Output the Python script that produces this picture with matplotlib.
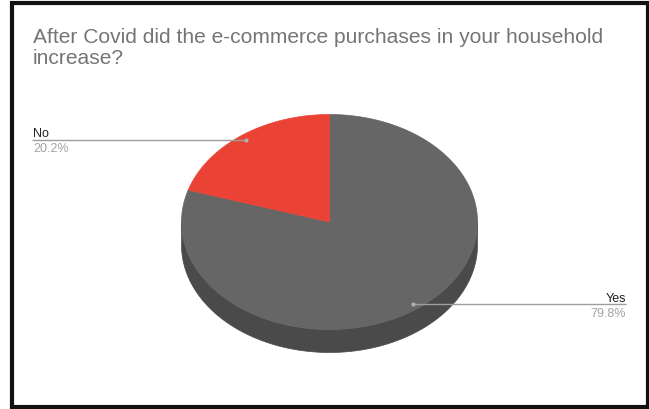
import numpy as np
import matplotlib
matplotlib.use("Agg")
import matplotlib.pyplot as plt
from matplotlib.patches import Polygon, Rectangle

plt.rcParams['font.family'] = ['Liberation Sans', 'DejaVu Sans']

title = "After Covid did the e-commerce purchases in your household\nincrease?"
answers = ["Yes", "No"]
shares = [79.8, 20.2]
top_colors = ["#666666", "#ea4335"]
side_colors = ["#4a4a4a", "#b2322a"]

W, H = 649, 410
fig = plt.figure(figsize=(W / 100, H / 100), dpi=100)
ax = fig.add_axes([0, 0, 1, 1])
ax.set_xlim(0, W)
ax.set_ylim(H, 0)
ax.axis('off')

# frame round the whole chart
ax.add_patch(Rectangle((12.3, 4), 635.2, 404, fill=False, edgecolor='#111111', linewidth=3))

# baseline given for the last line of the title
ax.text(33, 63.5, title, fontsize=15.1, color='#757575', ha='left', va='baseline',
        linespacing=1.1)

# tilted pie: ellipse centre, radii and thickness
cx, cy = 329.5, 223
rx, ry = 148, 107.5
depth = 23


def rim(t):
    # t in degrees, clockwise from 12 o'clock
    t = np.radians(t)
    return cx + rx * np.sin(t), cy - ry * np.cos(t)


bounds = np.concatenate([[0], np.cumsum(shares) / sum(shares) * 360])

# side walls (only the front half, 90..270 deg, is visible)
for i in range(len(shares)):
    a, b = max(bounds[i], 90), min(bounds[i + 1], 270)
    if a >= b:
        continue
    t = np.linspace(a, b, 200)
    x, y = rim(t)
    pts = np.vstack([np.column_stack([x, y]),
                     np.column_stack([x[::-1], y[::-1] + depth])])
    ax.add_patch(Polygon(pts, closed=True, facecolor=side_colors[i],
                         edgecolor=side_colors[i], linewidth=0.5))

# top faces
for i in range(len(shares)):
    t = np.linspace(bounds[i], bounds[i + 1], 300)
    x, y = rim(t)
    pts = np.vstack([[cx, cy], np.column_stack([x, y])])
    ax.add_patch(Polygon(pts, closed=True, facecolor=top_colors[i],
                         edgecolor=top_colors[i], linewidth=0.5))

# leader lines and labels
for i, (name, val) in enumerate(zip(answers, shares)):
    mid = (bounds[i] + bounds[i + 1]) / 2
    t = np.radians(mid)
    dx = cx + 0.95 * rx * np.sin(t)
    dy = cy - 0.95 * ry * np.cos(t)
    if dx < cx:
        x_end, ha = 32, 'left'
    else:
        x_end, ha = 626, 'right'
    ax.plot([dx, x_end], [dy, dy], color='#9e9e9e', linewidth=1, solid_capstyle='butt')
    ax.plot([dx], [dy], 'o', markersize=3, color='#b0b0b0', markeredgewidth=0)
    ax.text(x_end + (1 if ha == 'left' else 0), dy - 3.5, name, fontsize=9,
            color='#222222', ha=ha, va='baseline')
    ax.text(x_end + (1 if ha == 'left' else 0), dy + 2.5, f"{val}%", fontsize=9,
            color='#a3a3a3', ha=ha, va='top')

fig.savefig('out.png', dpi=100)
